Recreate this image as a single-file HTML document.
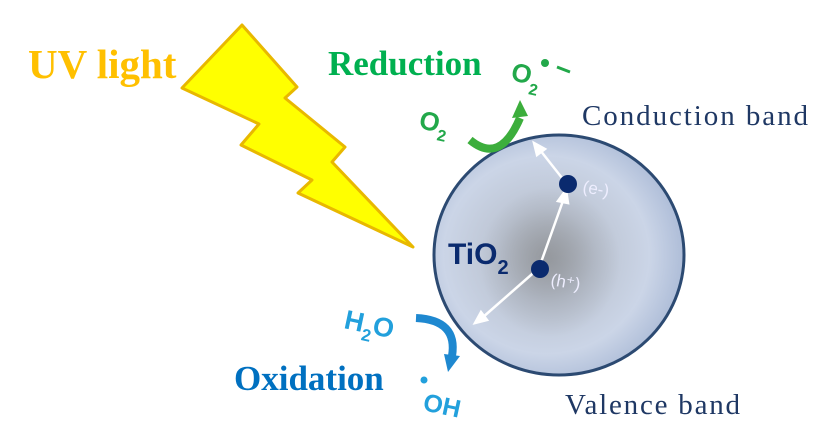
<!DOCTYPE html>
<html><head><meta charset="utf-8"><style>
html,body{margin:0;padding:0;background:#fff;width:829px;height:440px;overflow:hidden}
</style></head><body>
<svg width="829" height="440" viewBox="0 0 829 440" xmlns="http://www.w3.org/2000/svg">
<defs>
<radialGradient id="g" cx="0.45" cy="0.5" r="0.55">
<stop offset="0" stop-color="#a4a8ae"/>
<stop offset="0.35" stop-color="#bcc4d2"/>
<stop offset="0.75" stop-color="#cbd5e7"/>
<stop offset="1" stop-color="#aebdd8"/>
</radialGradient>
<radialGradient id="c" cx="0.5" cy="0.5" r="0.5">
<stop offset="0" stop-color="#8a8d92" stop-opacity="0.6"/>
<stop offset="1" stop-color="#8a8d92" stop-opacity="0"/>
</radialGradient>
</defs>
<polygon points="242,25 297,87 285,98 345,147 332,162 413,247 298,193 312,180 241,145 259,124 182,88" fill="#ffff00" stroke="#e8b800" stroke-width="3" stroke-linejoin="round"/>
<text x="28" y="78" font-family="Liberation Serif" font-weight="bold" font-size="41" fill="#ffc000">UV light</text>
<text x="328" y="75" font-family="Liberation Serif" font-weight="bold" font-size="35" fill="#00b050">Reduction</text>
<text x="582" y="125" font-family="Liberation Serif" font-size="29" fill="#1f3864" textLength="226">Conduction  band</text>
<text x="234" y="390" font-family="Liberation Serif" font-weight="bold" font-size="35" fill="#0070c0">Oxidation</text>
<text x="565" y="414" font-family="Liberation Serif" font-size="29" fill="#1f3864" textLength="175">Valence  band</text>
<ellipse cx="559" cy="255" rx="125" ry="120" fill="url(#g)" stroke="#2c4a72" stroke-width="3"/>
<ellipse cx="550" cy="262" rx="70" ry="75" fill="url(#c)"/>
<g stroke="#fff" stroke-width="2.5" fill="#fff">
<line x1="539" y1="268" x2="564" y2="198"/><polygon points="566,190 558,201 568,203"/>
<line x1="566" y1="183" x2="540" y2="150"/><polygon points="534,143 537,155 545,149"/>
<line x1="539" y1="268" x2="482" y2="318"/><polygon points="475,323 487,320 481,312"/>
</g>
<circle cx="568" cy="184" r="9" fill="#0a2a6e"/>
<circle cx="540" cy="269" r="9" fill="#0a2a6e"/>
<text x="582" y="192" font-family="Liberation Sans" font-size="17" fill="#eef" transform="rotate(10 582 192)">(e-)</text>
<text x="550" y="285" font-family="Liberation Sans" font-size="17" fill="#eef" transform="rotate(10 550 285)">(h⁺)</text>
<text x="448" y="264" font-family="Liberation Sans" font-weight="bold" font-size="30" fill="#0a2a6e">TiO<tspan font-size="20" dy="10">2</tspan></text>
<path d="M470,140 Q500,165 520,118" fill="none" stroke="#3cae3c" stroke-width="8"/>
<polygon points="512,118 528,116 520,100" fill="#3cae3c"/>
<text x="418" y="128" font-family="Liberation Sans" font-weight="bold" font-size="26" fill="#22a84a" transform="rotate(12 418 128)">O<tspan font-size="16" dy="8">2</tspan></text>
<text x="510" y="80" font-family="Liberation Sans" font-weight="bold" font-size="26" fill="#22a84a" transform="rotate(12 510 80)">O<tspan font-size="16" dy="10">2</tspan></text>
<circle cx="545" cy="63" r="4" fill="#22a84a"/>
<line x1="557" y1="67" x2="570" y2="72" stroke="#22a84a" stroke-width="3"/>
<path d="M416,318 Q458,320 452,356" fill="none" stroke="#1e88d0" stroke-width="8"/>
<polygon points="444,354 460,356 448,372" fill="#1e88d0"/>
<text x="343" y="328" font-family="Liberation Sans" font-weight="bold" font-size="27" fill="#22a0dc" transform="rotate(12 343 328)">H<tspan font-size="17" dy="8">2</tspan><tspan dy="-8">O</tspan></text>
<circle cx="424" cy="380" r="3.5" fill="#22a0dc"/>
<text x="422" y="410" font-family="Liberation Sans" font-weight="bold" font-size="25" fill="#22a0dc" transform="rotate(12 422 410)">OH</text>
</svg>
</body></html>
